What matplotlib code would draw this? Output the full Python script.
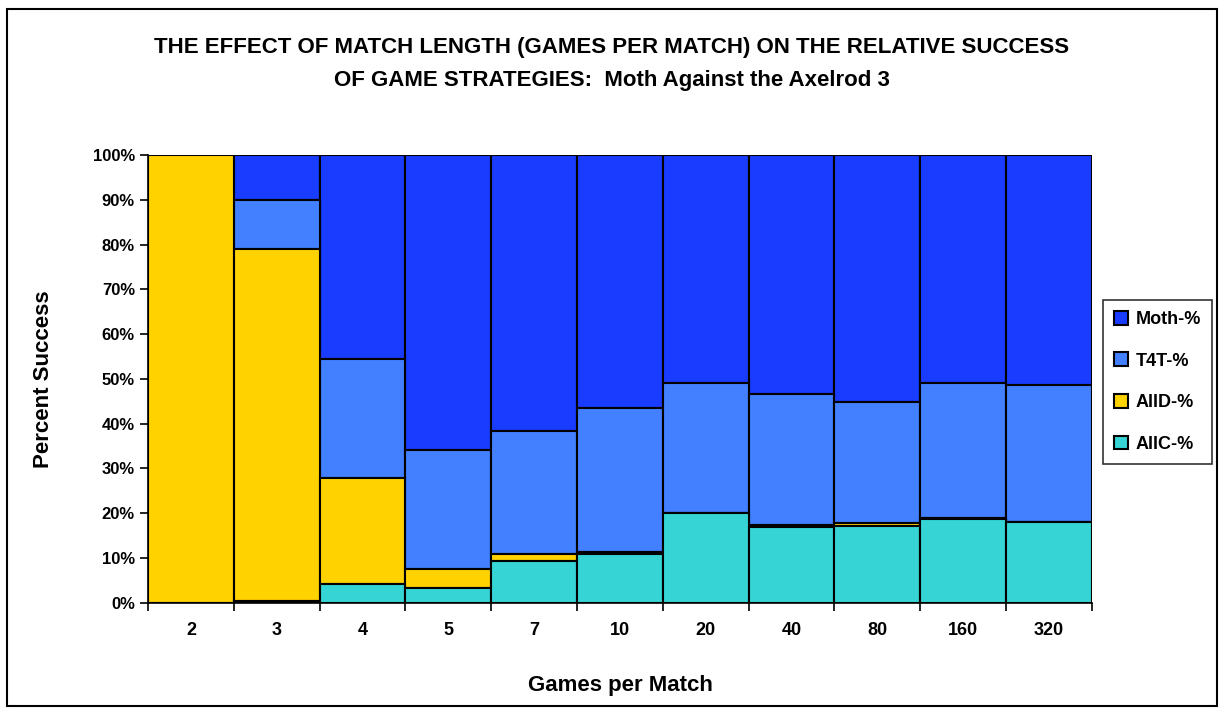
import numpy as np
import matplotlib.pyplot as plt
from matplotlib.patches import Rectangle

# data (percent of population, stacked bottom -> top)
games = ["2", "3", "4", "5", "7", "10", "20", "40", "80", "160", "320"]
allc = [0.0, 0.5, 4.2, 3.3, 9.4, 11.0, 20.0, 17.0, 17.1, 18.6, 18.0]
alld = [100.0, 78.5, 23.7, 4.3, 1.4, 0.3, 0.1, 0.3, 0.8, 0.3, 0.0]
t4t = [0.0, 11.0, 26.6, 26.6, 27.6, 32.2, 29.0, 29.4, 27.0, 30.2, 30.6]
moth = [100 - a - b - c for a, b, c in zip(allc, alld, t4t)]

plt.rcParams['font.family'] = ['Liberation Sans', 'DejaVu Sans']
plt.rcParams['font.weight'] = 'bold'

fig = plt.figure(figsize=(12.24, 7.15), dpi=100)
ax = fig.add_axes([0.121, 0.157, 0.771, 0.626])

# outer frame
fig.patches.append(Rectangle((0.006, 0.012), 0.988, 0.975, transform=fig.transFigure,
                             fill=False, edgecolor='black', linewidth=1.5))

x = np.arange(len(games))
c_allc, c_alld, c_t4t, c_moth = '#36D4D4', '#FFD200', '#4280FF', '#1A3CFF'
kw = dict(width=1.0, edgecolor='black', linewidth=1.5)
b1 = np.array(allc)
b2 = b1 + np.array(alld)
b3 = b2 + np.array(t4t)
ax.bar(x, moth, bottom=b3, color=c_moth, label='Moth-%', **kw)
ax.bar(x, t4t, bottom=b2, color=c_t4t, label='T4T-%', **kw)
ax.bar(x, alld, bottom=b1, color=c_alld, label='AllD-%', **kw)
ax.bar(x, allc, color=c_allc, label='AllC-%', **kw)

ax.set_xlim(-0.5, len(games) - 0.5)
ax.set_ylim(0, 100)
ax.set_yticks(np.arange(0, 101, 10))
ax.set_yticklabels([f"{v}%" for v in range(0, 101, 10)], fontsize=12)
ax.set_xticks(x)
ax.set_xticklabels(games, fontsize=13)
ax.tick_params(axis='x', length=0, pad=14)
ax.set_xticks(np.arange(-0.5, len(games), 1), minor=True)
ax.tick_params(axis='x', which='minor', length=6, width=1.2)
ax.tick_params(axis='y', length=6, width=1.2)
for s in ['top', 'right']:
    ax.spines[s].set_visible(False)
for s in ['left', 'bottom']:
    ax.spines[s].set_linewidth(1.2)

ax.set_xlabel("Games per Match", fontsize=16, fontweight='bold', labelpad=26)
ax.set_ylabel("Percent Success", fontsize=16, fontweight='bold', labelpad=28)

fig.text(0.5, 0.933, "THE EFFECT OF MATCH LENGTH (GAMES PER MATCH) ON THE RELATIVE SUCCESS",
         ha='center', va='center', fontsize=16)
fig.text(0.5, 0.888, "OF GAME STRATEGIES:  Moth Against the Axelrod 3",
         ha='center', va='center', fontsize=16)

leg = fig.legend(loc='center left', bbox_to_anchor=(0.901, 0.466), fontsize=13,
                 frameon=True, fancybox=False, edgecolor='black', handlelength=0.8,
                 handleheight=0.8, handletextpad=0.4, labelspacing=1.35, borderpad=0.6,
                 borderaxespad=0.0)
leg.get_frame().set_linewidth(1.2)

fig.savefig("out.png", dpi=100)
